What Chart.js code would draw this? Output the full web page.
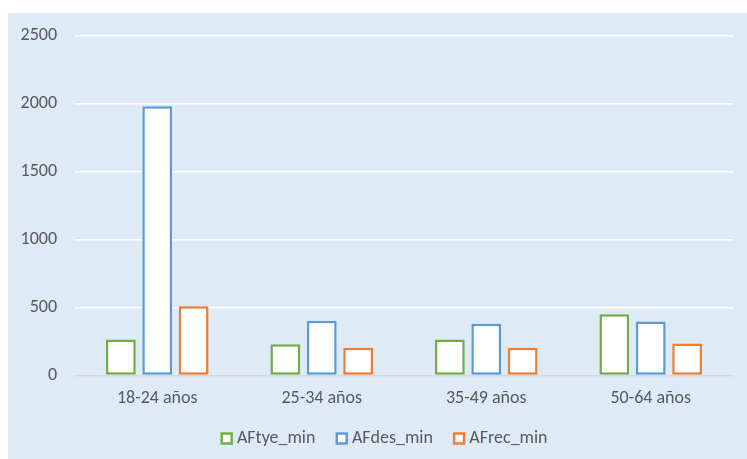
<!DOCTYPE html>
<html>
<head>
<meta charset="utf-8">
<script src="https://cdn.jsdelivr.net/npm/chart.js@4/dist/chart.umd.min.js"></script>
<style>
  html, body { margin: 0; padding: 0; background: #ffffff; overflow: hidden; }
  #wrap { position: absolute; left: 8px; top: 13px; width: 739px; height: 446px; background: #DEEBF7; overflow: hidden; }
  canvas { display: block; }
</style>
</head>
<body>
<div id="wrap"><canvas id="c" width="739" height="446"></canvas></div>
<script>
// Age groups on the category axis
const categories = ['18-24 años', '25-34 años', '35-49 años', '50-64 años'];
// Minutes per series and age group
const aftyeMin = [265, 230, 265, 450];
const afdesMin = [1980, 403, 380, 397];
const afrecMin = [510, 204, 204, 236];
// Value axis ticks
const yTicks = [0, 500, 1000, 1500, 2000, 2500];

const FONT = "'Carlito', 'Open Sans', sans-serif";
const TEXT = '#595959';
const SIZE = 18;

function series(label, data, color) {
  return {
    label, data,
    backgroundColor: '#ffffff',
    borderColor: color,
    borderWidth: 2.5,
    borderSkipped: false,
    categoryPercentage: 0.664,
    barPercentage: 0.82
  };
}

// Compact legend row: outlined square, short gap, label; centred under the chart
const compactLegend = {
  id: 'compactLegend',
  afterDraw(chart) {
    const ctx = chart.ctx;
    const box = 12.5, gap = 4, spacing = 20, cy = 425.5;
    ctx.save();
    ctx.font = `${SIZE}px ${FONT}`;
    ctx.textBaseline = 'middle';
    const items = chart.data.datasets.map(ds => ({
      text: ds.label, color: ds.borderColor, w: ctx.measureText(ds.label).width
    }));
    const total = items.reduce((s, it) => s + box + gap + it.w, 0) + spacing * (items.length - 1);
    let x = 376 - total / 2;
    items.forEach(it => {
      ctx.fillStyle = '#ffffff';
      ctx.fillRect(x, cy - box / 2, box, box);
      ctx.strokeStyle = it.color;
      ctx.lineWidth = 2.5;
      ctx.strokeRect(x + 1.25, cy - box / 2 + 1.25, box - 2.5, box - 2.5);
      ctx.fillStyle = TEXT;
      ctx.fillText(it.text, x + box + gap, cy);
      x += box + gap + it.w + spacing;
    });
    ctx.restore();
  }
};

new Chart(document.getElementById('c'), {
  type: 'bar',
  data: {
    labels: categories,
    datasets: [
      series('AFtye_min', aftyeMin, '#70AD47'),
      series('AFdes_min', afdesMin, '#5B9BD5'),
      series('AFrec_min', afrecMin, '#ED7D31')
    ]
  },
  plugins: [compactLegend],
  options: {
    responsive: false,
    animation: false,
    layout: { padding: { top: 22.5, right: 14, bottom: 50.5, left: 0 } },
    scales: {
      x: {
        grid: { display: false, drawTicks: false },
        border: { display: true, color: '#D9D9D9', width: 1 },
        ticks: { color: TEXT, font: { family: FONT, size: SIZE }, padding: 11.7 },
        afterFit: s => { s.height = 33; }
      },
      y: {
        min: 0, max: 2500,
        afterBuildTicks: s => { s.ticks = yTicks.map(v => ({ value: v })); },
        afterFit: s => { s.width = 67; s.paddingTop = 0; s.paddingBottom = 0; },
        grid: {
          color: ctx => ctx.tick && ctx.tick.value === 0 ? '#D9D9D9' : '#ffffff',
          lineWidth: 1.5,
          drawTicks: false
        },
        border: { display: false },
        ticks: {
          color: TEXT,
          font: { family: FONT, size: SIZE },
          padding: 18,
          callback: v => String(v)
        }
      }
    },
    plugins: {
      legend: { display: false },
      tooltip: { enabled: false }
    }
  }
});
</script>
</body>
</html>
